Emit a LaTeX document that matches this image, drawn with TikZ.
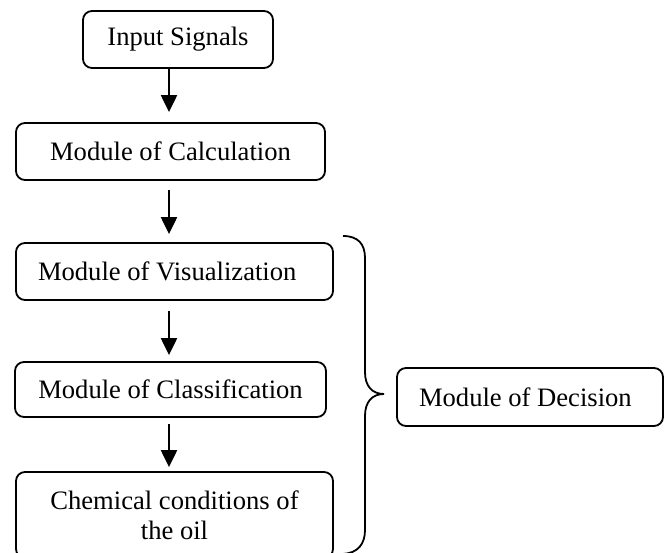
\documentclass[tikz,border=0pt]{standalone}
\usepackage{fontspec}
\setmainfont{Liberation Serif}
\usetikzlibrary{arrows.meta,calc}
\begin{document}
\begin{tikzpicture}[x=1pt,y=-1pt,
  box/.style={draw, line width=1.8pt, rounded corners=9pt, inner sep=0pt,
    font=\fontsize{26.6}{30}\selectfont, align=center},
  arr/.style={line width=2.2pt, -{Triangle[length=17pt,width=16pt]}},
  bracepath/.style={line width=1.8pt}]
\useasboundingbox (0,0) rectangle (667,553);
\clip (0,0) rectangle (667,553);
\node[box, minimum width=190pt, minimum height=57pt] (in) at (178,39.5) {Input Signals};
\node[box, minimum width=309pt, minimum height=57pt] (calc) at (170.5,151.5) {Module of Calculation};
\node[box, minimum height=57pt, text width=273pt, align=flush left, inner xsep=22pt] (vis) at (174.5,271.5) {Module of Visualization};
\node[box, minimum width=311pt, minimum height=55pt] (class) at (170.5,389.5) {Module of Classification};
\node[box, minimum width=317pt, minimum height=86pt] (chem) at (174.5,515) {Chemical conditions of\\the oil};
\node[box, minimum height=58pt, text width=222pt, align=flush left, inner xsep=22pt] (dec) at (530,397) {Module of Decision};
\coordinate (ax) at (169,0);
\draw[arr, shorten >=10pt] (in.south -| ax) -- (calc.north -| ax);
\draw[arr, shorten <=9pt, shorten >=8pt] (calc.south -| ax) -- (vis.north -| ax);
\draw[arr, shorten <=10pt, shorten >=6pt] (vis.south -| ax) -- (class.north -| ax);
\draw[arr, shorten <=6pt, shorten >=4pt] (class.south -| ax) -- (chem.north -| ax);
\draw[bracepath] (343,236) .. controls (358,236) and (365,244) .. (365,258)
  -- (365,372) .. controls (365,386) and (372,394) .. (384,394)
  .. controls (372,394) and (365,402) .. (365,416)
  -- (365,530) .. controls (365,544) and (358,553) .. (343,554);
\end{tikzpicture}
\end{document}
